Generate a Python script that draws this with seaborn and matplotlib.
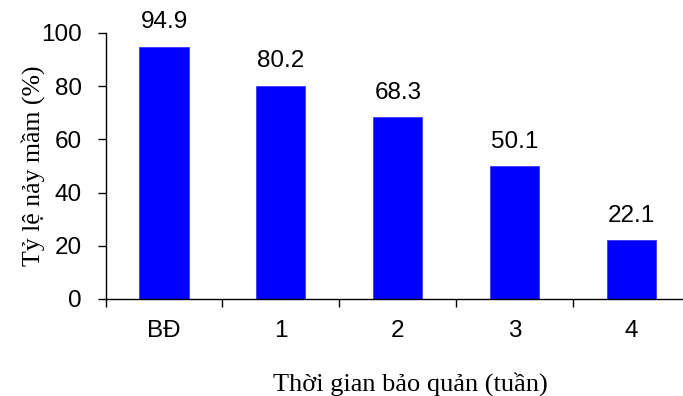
import numpy as np
import pandas as pd
import matplotlib.pyplot as plt
import seaborn as sns

# ---------------------------------------
# Data
# ---------------------------------------
weeks = ["BĐ", "1", "2", "3", "4"]
germination = [94.9, 80.2, 68.3, 50.1, 22.1]

df = pd.DataFrame({"week": weeks, "rate": germination})

sns.set_theme(style="white")
plt.rcParams["font.family"] = ["Liberation Sans", "DejaVu Sans"]

fig = plt.figure(figsize=(6.83, 3.96), dpi=100)
ax = fig.add_axes([0.1546, 0.245, 0.8557, 0.6717])

sns.barplot(data=df, x="week", y="rate", color="#0000FF", width=0.42,
            saturation=1, ax=ax, edgecolor="#3a3aff", linewidth=0.6)

# value labels above bars
for i, v in enumerate(germination):
    ax.annotate(f"{v:.1f}", (i, v), xytext=(0, 9.5), textcoords="offset points",
                ha="center", va="bottom", fontsize=17.5, color="black")

ax.set_xlim(-0.5, len(weeks) - 0.5)
ax.set_ylim(0, 100)
ax.set_yticks(np.arange(0, 101, 20))

# category labels at centres, tick marks at boundaries
ax.set_xticks(range(len(weeks)))
ax.set_xticklabels(weeks)
ax.set_xticks(np.arange(-0.5, len(weeks), 1), minor=True)
ax.tick_params(axis="x", which="major", length=0, pad=15, labelsize=17.5, colors="black")
ax.tick_params(axis="x", which="minor", length=6, width=1, direction="out", color="black", bottom=True)
ax.tick_params(axis="y", length=6, width=1, direction="out", pad=11, labelsize=17.5,
               colors="black", left=True)

for side in ["top", "right"]:
    ax.spines[side].set_visible(False)
for side in ["left", "bottom"]:
    ax.spines[side].set_color("black")
    ax.spines[side].set_linewidth(1)

ax.set_xlabel("Thời gian bảo quản (tuần)", family=["Liberation Serif", "DejaVu Serif"],
              fontsize=19, labelpad=22, color="black")
ax.xaxis.label.set_x(0.521)
ax.set_ylabel("Tỷ lệ nảy mầm (%)", family=["Liberation Serif", "DejaVu Serif"],
              fontsize=18.5, labelpad=-3, color="black")

plt.savefig("out.png", dpi=100)
